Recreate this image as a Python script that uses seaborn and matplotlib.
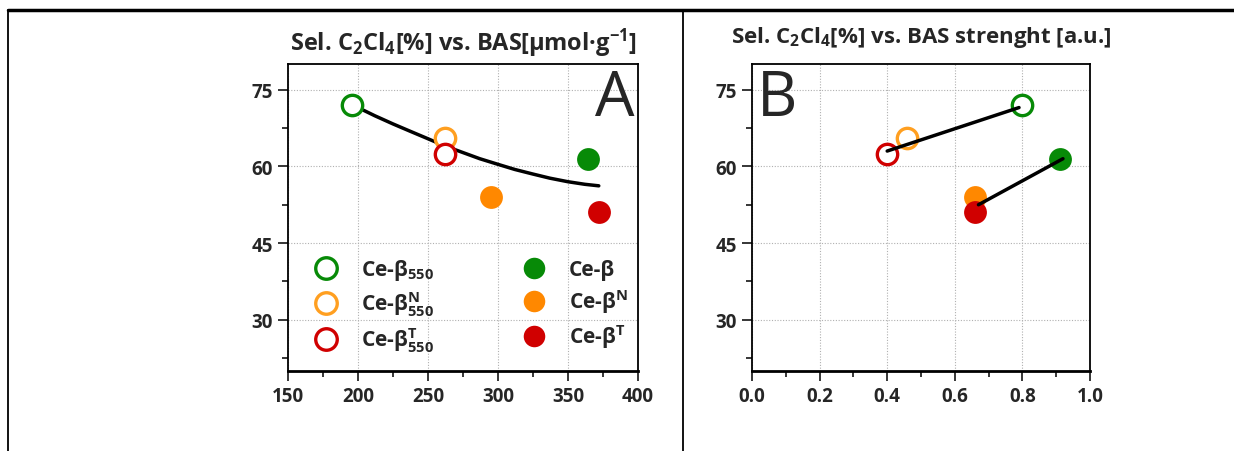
import matplotlib
matplotlib.use("Agg")
import matplotlib.pyplot as plt
from matplotlib.lines import Line2D
from matplotlib.ticker import MultipleLocator
import seaborn as sns
import pandas as pd

sns.set_style("white")
plt.rcParams['font.family'] = ['Open Sans', 'DejaVu Sans']
plt.rcParams['font.weight'] = 'bold'
plt.rcParams['mathtext.fontset'] = 'custom'
plt.rcParams['mathtext.rm'] = 'Open Sans:bold'
plt.rcParams['mathtext.bf'] = 'Open Sans:bold'
plt.rcParams['mathtext.it'] = 'Open Sans:bold'
plt.rcParams['mathtext.default'] = 'bf'

# ---- data ----
samples = ["Ce-β550", "Ce-β550N", "Ce-β550T", "Ce-β", "Ce-βN", "Ce-βT"]
labels = ["Ce-β$_{550}$", "Ce-β$^{N}_{550}$", "Ce-β$^{T}_{550}$",
          "Ce-β", "Ce-β$^{N}$", "Ce-β$^{T}$"]
filled = [False, False, False, True, True, True]
colors = ["#078A07", "#FF9F20", "#D00000", "#078A07", "#FF8800", "#D00000"]
bas = [196, 262, 262, 364, 295, 372]
strength = [0.80, 0.46, 0.40, 0.91, 0.66, 0.66]
selectivity = [72.0, 65.5, 62.5, 61.5, 54.0, 51.0]

fit_x = [200, 212, 225, 237, 250, 262, 275, 287, 300, 312, 325, 337, 350, 362, 372]
fit_y = [71.5, 69.9, 68.3, 66.9, 65.4, 64.0, 62.7, 61.5, 60.4, 59.4, 58.5, 57.7, 57.0, 56.5, 56.2]

line1_x = [0.40, 0.79]
line1_y = [63.0, 71.5]
line2_x = [0.67, 0.92]
line2_y = [52.5, 61.5]

df = pd.DataFrame({"sample": samples, "bas": bas, "strength": strength,
                   "sel": selectivity})

fig = plt.figure(figsize=(12.34, 4.52), dpi=100)
axA = fig.add_axes([0.2334, 0.177, 0.2836, 0.679])
axB = fig.add_axes([0.6094, 0.177, 0.2739, 0.679])


def draw_points(ax, xcol):
    for i in range(len(samples)):
        sub = df.iloc[[i]]
        if filled[i]:
            sns.scatterplot(data=sub, x=xcol, y="sel", ax=ax, s=270,
                            color=colors[i], edgecolor=colors[i],
                            linewidth=0, zorder=3, legend=False)
        else:
            sns.scatterplot(data=sub, x=xcol, y="sel", ax=ax, s=215,
                            facecolor="white", edgecolor=colors[i],
                            linewidth=2.4, zorder=3, legend=False)


def style_axes(ax, xmaj, xmin, xlim):
    ax.set_ylim(20, 80)
    ax.set_xlim(*xlim)
    ax.yaxis.set_major_locator(MultipleLocator(15))
    ax.yaxis.set_minor_locator(MultipleLocator(7.5))
    ax.xaxis.set_major_locator(MultipleLocator(xmaj))
    ax.xaxis.set_minor_locator(MultipleLocator(xmin))
    ax.grid(True, which="major", color="#b0b0b0", linestyle=(0, (1, 1.5)),
            linewidth=0.8)
    ax.set_axisbelow(True)
    ax.tick_params(which="major", direction="out", length=7, width=1.3,
                   labelsize=13.5, bottom=True, left=True, pad=4)
    ax.tick_params(which="minor", direction="out", length=4, width=1.3,
                   bottom=True, left=True)
    for sp in ax.spines.values():
        sp.set_visible(True)
        sp.set_color("black")
        sp.set_linewidth(1.3)
    ax.spines["bottom"].set_linewidth(2.0)
    ax.set_xlabel("")
    ax.set_ylabel("")
    for lab in ax.get_xticklabels() + ax.get_yticklabels():
        lab.set_fontweight("bold")


# Panel A
sns.lineplot(x=fit_x, y=fit_y, ax=axA, color="black", linewidth=2.5,
             sort=False, zorder=2)
draw_points(axA, "bas")
style_axes(axA, 50, 25, (150, 400))
axA.set_title("Sel. C$_{2}$Cl$_{4}$[%] vs. BAS[µmol·g$^{-1}$]",
              fontsize=17, fontweight="bold", pad=10)
axA.text(0.99, 0.99, "A", transform=axA.transAxes, ha="right", va="top",
         fontsize=45, fontweight="normal")

handles = [Line2D([], [], linestyle="none", marker="o", markersize=15.5,
                  markerfacecolor=(colors[i] if filled[i] else "white"),
                  markeredgecolor=colors[i],
                  markeredgewidth=(0 if filled[i] else 2.4))
           for i in range(len(samples))]
axA.legend(handles, labels, ncol=2, loc="lower left",
           bbox_to_anchor=(0.0, 0.0), frameon=False,
           columnspacing=3.8, handletextpad=0.7, labelspacing=0.35,
           borderaxespad=0.4, borderpad=0.4,
           prop={"weight": "bold", "size": 15})

# Panel B
sns.lineplot(x=line1_x, y=line1_y, ax=axB, color="black", linewidth=2.5,
             sort=False, zorder=4)
sns.lineplot(x=line2_x, y=line2_y, ax=axB, color="black", linewidth=2.5,
             sort=False, zorder=4)
draw_points(axB, "strength")
style_axes(axB, 0.2, 0.1, (0.0, 1.0))
axB.set_title("Sel. C$_{2}$Cl$_{4}$[%] vs. BAS strenght [a.u.]",
              fontsize=16, fontweight="bold", pad=16)
axB.text(0.015, 0.99, "B", transform=axB.transAxes, ha="left", va="top",
         fontsize=45, fontweight="normal")
axB.xaxis.set_major_formatter(matplotlib.ticker.FormatStrFormatter("%.1f"))

# Frame lines of the figure
fig.add_artist(Line2D([8 / 1234, 1.0], [1 - 11 / 452, 1 - 11 / 452],
                      color="black", linewidth=2.5, transform=fig.transFigure))
fig.add_artist(Line2D([8 / 1234, 8 / 1234], [0, 1 - 11 / 452],
                      color="black", linewidth=1.3, transform=fig.transFigure))
fig.add_artist(Line2D([683 / 1234, 683 / 1234], [0, 1 - 11 / 452],
                      color="black", linewidth=1.3, transform=fig.transFigure))

fig.savefig("out.png", dpi=100)
